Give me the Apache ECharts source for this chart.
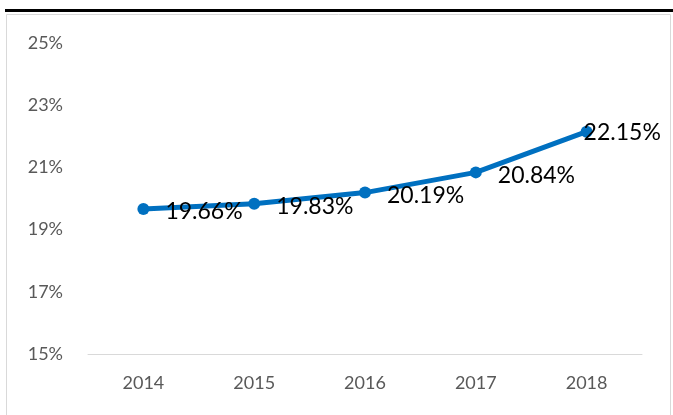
<!DOCTYPE html>
<html>
<head>
<meta charset="utf-8">
<script src="https://cdn.jsdelivr.net/npm/echarts@6/dist/echarts.min.js"></script>
<style>
  html, body { margin: 0; padding: 0; background: #fff; }
  #main { width: 673px; height: 415px; }
</style>
</head>
<body>
<div id="main"></div>
<script>
// 年份与比例数据
var years = ['2014', '2015', '2016', '2017', '2018'];
var rates = [19.66, 19.83, 20.19, 20.84, 22.15];
var yMin = 15, yMax = 25, yStep = 2;

var chart = echarts.init(document.getElementById('main'));

var points = rates.map(function (v, i) {
    var item = {value: v};
    // 最后一个标签在图内，往左挪
    if (i === rates.length - 1) {
        item.label = {offset: [-25, 1]};
    }
    return item;
});

var option = {
    animation: false,
    graphic: [
        {
            type: 'rect',
            shape: {x: 6.5, y: 14.5, width: 664, height: 410},
            style: {fill: 'none', stroke: '#d9d9d9', lineWidth: 1}
        },
        {
            type: 'rect',
            shape: {x: 5, y: 9, width: 668, height: 3},
            style: {fill: '#000'}
        }
    ],
    grid: {left: 88, right: 31, top: 43, bottom: 61},
    xAxis: {
        type: 'category',
        data: years,
        boundaryGap: true,
        axisLine: {lineStyle: {color: '#d9d9d9', width: 1}},
        axisTick: {show: false},
        axisLabel: {color: '#595959', fontSize: 18, fontFamily: 'Lato', margin: 20}
    },
    yAxis: {
        type: 'value',
        min: yMin,
        max: yMax,
        interval: yStep,
        axisLine: {show: false},
        axisTick: {show: false},
        splitLine: {show: false},
        axisLabel: {
            formatter: '{value}%',
            color: '#595959',
            fontSize: 18,
            fontFamily: 'Lato',
            margin: 25
        }
    },
    series: [
        {
            type: 'line',
            data: points,
            symbol: 'circle',
            symbolSize: 12,
            lineStyle: {color: '#0070c0', width: 5},
            itemStyle: {color: '#0070c0'},
            label: {
                show: true,
                position: 'right',
                distance: 16,
                offset: [0, 3],
                formatter: '{c}%',
                color: '#000',
                fontSize: 23,
                fontFamily: 'Lato'
            }
        }
    ]
};

chart.setOption(option);
</script>
</body>
</html>
